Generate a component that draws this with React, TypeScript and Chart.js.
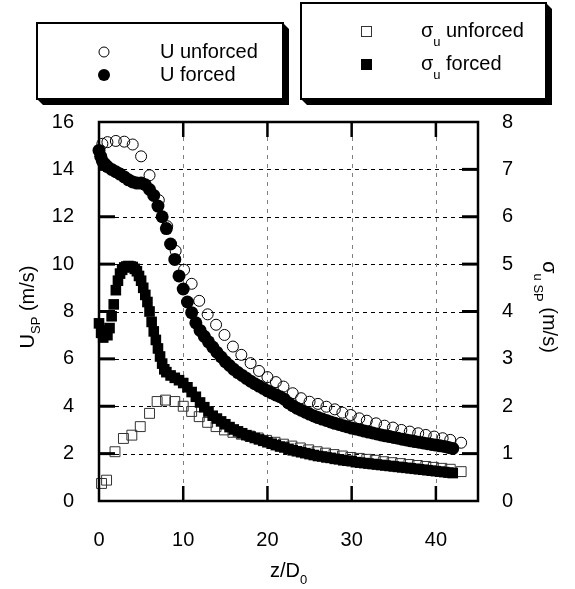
import React, { useEffect, useRef } from 'react';
import { Chart, registerables } from 'chart.js';

Chart.register(...registerables);

// ---------------- data ----------------
const xTicks = [0, 10, 20, 30, 40];
const uTicks = [0, 2, 4, 6, 8, 10, 12, 14, 16];
const sTicks = [0, 1, 2, 3, 4, 5, 6, 7, 8];

const uUnforcedX = [0.4, 1.0, 2.0, 3.0, 4.0, 5.0, 6.0, 7.1, 8.1, 9.1, 10.1, 11.0, 11.9, 12.9, 13.9, 14.9, 15.9, 16.9, 18.0, 19.0, 20.0, 21.0, 21.9, 23.0, 24.0, 25.0, 26.0, 27.0, 28.0, 28.9, 29.9, 30.9, 31.8, 32.9, 33.9, 34.9, 35.9, 36.9, 37.9, 38.8, 39.8, 40.8, 41.7, 43.0];
const uUnforcedY = [15.08, 15.15, 15.2, 15.17, 15.05, 14.55, 13.75, 12.7, 11.6, 10.56, 9.76, 9.17, 8.45, 7.88, 7.44, 7.01, 6.52, 6.17, 5.82, 5.49, 5.23, 5.02, 4.83, 4.55, 4.34, 4.19, 4.1, 3.98, 3.87, 3.73, 3.63, 3.49, 3.39, 3.28, 3.18, 3.1, 3.0, 2.93, 2.86, 2.79, 2.72, 2.65, 2.58, 2.46];

const uForcedX = [0.0, 0.2, 0.4, 0.7, 1.0, 1.5, 2.0, 2.5, 3.0, 3.5, 4.0, 4.5, 5.0, 5.5, 6.0, 6.5, 7.0, 7.5, 8.0, 8.5, 9.0, 9.5, 10.0, 10.5, 11.0, 11.5, 12.0, 12.5, 13.0, 13.5, 14.0, 14.5, 15.0, 15.5, 16.0, 16.5, 17.0, 17.5, 18.0, 18.5, 19.0, 19.5, 20.0, 20.5, 21.0, 21.5, 22.0, 22.5, 23.0, 23.5, 24.0, 24.5, 25.0, 25.5, 26.0, 26.5, 27.0, 27.5, 28.0, 28.5, 29.0, 29.5, 30.0, 30.5, 31.0, 31.5, 32.0, 32.5, 33.0, 33.5, 34.0, 34.5, 35.0, 35.5, 36.0, 36.5, 37.0, 37.5, 38.0, 38.5, 39.0, 39.5, 40.0, 40.5, 41.0, 41.5, 42.0];
const uForcedY = [14.8, 14.55, 14.35, 14.22, 14.12, 14.0, 13.9, 13.8, 13.68, 13.56, 13.47, 13.42, 13.42, 13.35, 13.15, 12.9, 12.45, 12.0, 11.5, 10.85, 10.2, 9.5, 8.95, 8.4, 7.95, 7.52, 7.2, 6.95, 6.72, 6.5, 6.28, 6.08, 5.88, 5.72, 5.56, 5.42, 5.3, 5.18, 5.06, 4.95, 4.85, 4.75, 4.65, 4.56, 4.48, 4.4, 4.3, 4.14, 4.02, 3.92, 3.83, 3.75, 3.67, 3.59, 3.52, 3.46, 3.4, 3.34, 3.28, 3.23, 3.18, 3.13, 3.08, 3.04, 3.0, 2.95, 2.91, 2.87, 2.83, 2.79, 2.75, 2.72, 2.68, 2.65, 2.61, 2.58, 2.54, 2.51, 2.48, 2.45, 2.42, 2.39, 2.36, 2.33, 2.3, 2.26, 2.22];

const sUnforcedX = [0.3, 0.9, 1.9, 2.9, 3.9, 4.9, 6.0, 6.9, 7.9, 9.0, 10.0, 11.0, 11.9, 12.9, 13.9, 14.9, 15.9, 16.9, 17.9, 18.9, 19.9, 20.9, 21.9, 22.9, 23.9, 24.9, 25.9, 26.9, 27.9, 28.9, 29.9, 30.9, 31.8, 32.8, 33.8, 34.8, 35.8, 36.8, 37.8, 38.8, 39.7, 40.7, 41.7, 43.0];
const sUnforcedY = [0.37, 0.44, 1.04, 1.32, 1.39, 1.57, 1.85, 2.1, 2.13, 2.1, 2.0, 1.89, 1.78, 1.66, 1.57, 1.5, 1.45, 1.41, 1.37, 1.33, 1.28, 1.24, 1.2, 1.16, 1.12, 1.08, 1.04, 1.01, 0.98, 0.95, 0.92, 0.9, 0.88, 0.86, 0.83, 0.81, 0.79, 0.77, 0.75, 0.73, 0.71, 0.69, 0.67, 0.62];

const sForcedX = [0.0, 0.25, 0.5, 0.75, 1.0, 1.25, 1.5, 1.75, 2.0, 2.25, 2.5, 2.75, 3.0, 3.25, 3.5, 3.75, 4.0, 4.25, 4.5, 4.75, 5.0, 5.25, 5.5, 5.75, 6.0, 6.25, 6.5, 6.75, 7.0, 7.25, 7.5, 7.75, 8.0, 8.5, 9.0, 9.5, 10.0, 10.5, 11.0, 11.5, 12.0, 12.5, 13.0, 13.5, 14.0, 14.5, 15.0, 15.5, 16.0, 16.5, 17.0, 17.5, 18.0, 18.5, 19.0, 19.5, 20.0, 20.5, 21.0, 21.5, 22.0, 22.5, 23.0, 23.5, 24.0, 24.5, 25.0, 25.5, 26.0, 26.5, 27.0, 27.5, 28.0, 28.5, 29.0, 29.5, 30.0, 30.5, 31.0, 31.5, 32.0, 32.5, 33.0, 33.5, 34.0, 34.5, 35.0, 35.5, 36.0, 36.5, 37.0, 37.5, 38.0, 38.5, 39.0, 39.5, 40.0, 40.5, 41.0, 41.5, 42.0];
const sForcedY = [3.75, 3.55, 3.45, 3.6, 3.5, 3.65, 3.9, 4.15, 4.45, 4.65, 4.8, 4.88, 4.93, 4.95, 4.96, 4.95, 4.94, 4.9, 4.85, 4.75, 4.65, 4.5, 4.35, 4.2, 4.0, 3.78, 3.58, 3.4, 3.22, 3.05, 2.9, 2.78, 2.72, 2.65, 2.6, 2.55, 2.49, 2.4, 2.3, 2.2, 2.08, 1.98, 1.89, 1.8, 1.74, 1.68, 1.62, 1.56, 1.51, 1.47, 1.43, 1.39, 1.36, 1.33, 1.3, 1.27, 1.24, 1.21, 1.18, 1.15, 1.13, 1.1, 1.07, 1.05, 1.03, 1.01, 0.99, 0.97, 0.95, 0.94, 0.92, 0.91, 0.89, 0.88, 0.86, 0.85, 0.84, 0.82, 0.81, 0.8, 0.79, 0.78, 0.77, 0.76, 0.75, 0.74, 0.73, 0.72, 0.71, 0.7, 0.69, 0.68, 0.67, 0.66, 0.65, 0.64, 0.63, 0.62, 0.61, 0.6, 0.59];

const legendLeftLabels = ['U unforced', 'U forced'];
const legendRightLabels = ['unforced', 'forced'];

// ---------------- layout ----------------
const W = 575;
const H = 589;
const PLOT = { left: 99, right: 478, top: 122, bottom: 501 };
const FONT = "'Liberation Sans', Arial, Helvetica, sans-serif";
const FS = 20;
const SUB = 13;

const zip = (xs: number[], ys: number[]) => xs.map((x, i) => ({ x, y: ys[i] }));

type Part = { t: string; sub?: boolean };

function richWidth(ctx: CanvasRenderingContext2D, parts: Part[]) {
  let w = 0;
  for (const p of parts) {
    ctx.font = `${p.sub ? SUB : FS}px ${FONT}`;
    w += ctx.measureText(p.t).width;
  }
  return w;
}

function drawRich(ctx: CanvasRenderingContext2D, parts: Part[], x: number, y: number, align: 'left' | 'center', subOff = 9) {
  let cx = align === 'center' ? x - richWidth(ctx, parts) / 2 : x;
  ctx.textAlign = 'left';
  ctx.textBaseline = 'middle';
  ctx.fillStyle = '#000';
  for (const p of parts) {
    ctx.font = `${p.sub ? SUB : FS}px ${FONT}`;
    ctx.fillText(p.t, cx, p.sub ? y + subOff : y);
    cx += ctx.measureText(p.t).width;
  }
}

function drawBox(ctx: CanvasRenderingContext2D, x0: number, y0: number, x1: number, y1: number) {
  const d = 6;
  ctx.fillStyle = '#000';
  ctx.beginPath();
  ctx.moveTo(x1, y0);
  ctx.lineTo(x1 + d, y0 + d);
  ctx.lineTo(x1 + d, y1 + d);
  ctx.lineTo(x0 + d, y1 + d);
  ctx.lineTo(x0, y1);
  ctx.closePath();
  ctx.fill();
  ctx.fillStyle = '#fff';
  ctx.fillRect(x0, y0, x1 - x0, y1 - y0);
  ctx.strokeStyle = '#000';
  ctx.lineWidth = 2;
  ctx.strokeRect(x0, y0, x1 - x0, y1 - y0);
}

const decorPlugin = {
  id: 'decor',
  beforeDatasetsDraw(chart: any) {
    const { ctx, chartArea: a, scales } = chart;
    ctx.save();
    ctx.lineWidth = 1;
    ctx.setLineDash([4, 4]);
    ctx.strokeStyle = '#000';
    for (const v of uTicks) {
      if (v === uTicks[0] || v === uTicks[uTicks.length - 1]) continue;
      const y = Math.round(scales.y.getPixelForValue(v)) + 0.5;
      ctx.beginPath();
      ctx.moveTo(a.left + 16, y);
      ctx.lineTo(a.right - 16, y);
      ctx.stroke();
    }
    ctx.strokeStyle = '#808080';
    ctx.setLineDash([4, 5]);
    for (const v of xTicks) {
      if (v === 0) continue;
      const x = Math.round(scales.x.getPixelForValue(v)) + 0.5;
      ctx.beginPath();
      ctx.moveTo(x, a.top + 15);
      ctx.lineTo(x, a.bottom - 15);
      ctx.stroke();
    }
    ctx.restore();
  },
  afterDatasetsDraw(chart: any) {
    const { ctx, chartArea: a, scales } = chart;
    ctx.save();
    ctx.setLineDash([]);
    ctx.strokeStyle = '#000';
    ctx.lineWidth = 3;
    for (const v of uTicks) {
      if (v === uTicks[0] || v === uTicks[uTicks.length - 1]) continue;
      const y = scales.y.getPixelForValue(v);
      ctx.beginPath();
      ctx.moveTo(a.left, y);
      ctx.lineTo(a.left + 16, y);
      ctx.stroke();
    }
    for (const v of sTicks) {
      if (v === sTicks[0] || v === sTicks[sTicks.length - 1]) continue;
      const y = scales.y1.getPixelForValue(v);
      ctx.beginPath();
      ctx.moveTo(a.right - 16, y);
      ctx.lineTo(a.right, y);
      ctx.stroke();
    }
    ctx.lineWidth = 2.5;
    for (const v of xTicks) {
      if (v === 0) continue;
      const x = scales.x.getPixelForValue(v);
      ctx.beginPath();
      ctx.moveTo(x, a.bottom);
      ctx.lineTo(x, a.bottom - 15);
      ctx.moveTo(x, a.top);
      ctx.lineTo(x, a.top + 15);
      ctx.stroke();
    }
    ctx.lineWidth = 2.5;
    ctx.strokeRect(a.left, a.top, a.right - a.left, a.bottom - a.top);
    ctx.restore();
  },
  afterDraw(chart: any) {
    const { ctx, chartArea: a } = chart;
    ctx.save();
    // axis titles
    drawRich(ctx, [{ t: 'z/D' }, { t: '0', sub: true }], (a.left + a.right) / 2, 571, 'center');
    ctx.save();
    ctx.translate(28, 307);
    ctx.rotate(-Math.PI / 2);
    drawRich(ctx, [{ t: 'U' }, { t: 'SP', sub: true }, { t: ' (m/s)' }], 0, 0, 'center', 8);
    ctx.restore();
    ctx.save();
    ctx.translate(549, 307);
    ctx.rotate(Math.PI / 2);
    drawRich(ctx, [{ t: 'σ' }, { t: 'u ', sub: true }, { t: 'SP', sub: true }, { t: ' (m/s)' }], 0, 0, 'center', 11);
    ctx.restore();

    // left legend
    drawBox(ctx, 37, 23, 283, 99);
    ctx.lineWidth = 1;
    ctx.strokeStyle = '#000';
    ctx.beginPath();
    ctx.arc(104, 52, 5, 0, Math.PI * 2);
    ctx.stroke();
    ctx.fillStyle = '#000';
    ctx.beginPath();
    ctx.arc(104, 75, 6, 0, Math.PI * 2);
    ctx.fill();
    drawRich(ctx, [{ t: legendLeftLabels[0] }], 160, 52, 'left');
    drawRich(ctx, [{ t: legendLeftLabels[1] }], 160, 75, 'left');

    // right legend
    drawBox(ctx, 301, 3, 546, 99);
    ctx.strokeStyle = '#333';
    ctx.lineWidth = 1;
    ctx.strokeRect(361.5, 26.5, 10, 10);
    ctx.fillStyle = '#000';
    ctx.fillRect(361, 59, 11, 11);
    drawRich(ctx, [{ t: 'σ' }, { t: 'u', sub: true }], 421, 31, 'left', 11);
    drawRich(ctx, [{ t: 'σ' }, { t: 'u', sub: true }], 421, 64, 'left', 11);
    drawRich(ctx, [{ t: legendRightLabels[0] }], 446, 31, 'left');
    drawRich(ctx, [{ t: legendRightLabels[1] }], 446, 64, 'left');
    ctx.restore();
  },
};

const tickFont = { family: FONT, size: FS };

export default function App() {
  const ref = useRef<HTMLCanvasElement>(null);
  useEffect(() => {
    document.body.style.margin = '0';
    const canvas = ref.current!;
    const chart = new Chart(canvas, {
      type: 'scatter',
      data: {
        datasets: [
          {
            label: 'U forced',
            data: zip(uForcedX, uForcedY),
            yAxisID: 'y',
            pointStyle: 'circle',
            pointRadius: 6.5,
            pointBackgroundColor: '#000',
            pointBorderColor: '#000',
            pointBorderWidth: 0,
            order: 0,
          },
          {
            label: 'σu forced',
            data: zip(sForcedX, sForcedY),
            yAxisID: 'y1',
            pointStyle: 'rect',
            pointRadius: 7.5,
            pointBackgroundColor: '#000',
            pointBorderColor: '#000',
            pointBorderWidth: 0,
            order: 1,
          },
          {
            label: 'U unforced',
            data: zip(uUnforcedX, uUnforcedY),
            yAxisID: 'y',
            pointStyle: 'circle',
            pointRadius: 5.5,
            pointBackgroundColor: 'rgba(0,0,0,0)',
            pointBorderColor: '#000',
            pointBorderWidth: 1,
            order: 2,
          },
          {
            label: 'σu unforced',
            data: zip(sUnforcedX, sUnforcedY),
            yAxisID: 'y1',
            pointStyle: 'rect',
            pointRadius: 7,
            pointBackgroundColor: 'rgba(0,0,0,0)',
            pointBorderColor: '#333',
            pointBorderWidth: 1,
            order: 3,
          },
        ],
      },
      options: {
        responsive: false,
        animation: false,
        devicePixelRatio: 1,
        clip: false as any,
        layout: { padding: { top: PLOT.top, left: 0, right: 0, bottom: 0 } },
        plugins: { legend: { display: false }, tooltip: { enabled: false } },
        scales: {
          x: {
            type: 'linear',
            position: 'bottom',
            min: 0,
            max: 45,
            afterBuildTicks: (s: any) => { s.ticks = xTicks.map((v) => ({ value: v })); },
            afterFit: (s: any) => { s.height = H - PLOT.bottom; },
            grid: { display: false, drawTicks: false },
            border: { display: false },
            ticks: { font: tickFont, color: '#000', padding: 27, autoSkip: false, maxRotation: 0 },
          },
          y: {
            type: 'linear',
            position: 'left',
            min: 0,
            max: 16,
            afterBuildTicks: (s: any) => { s.ticks = uTicks.map((v) => ({ value: v })); },
            afterFit: (s: any) => { s.width = PLOT.left; },
            grid: { display: false, drawTicks: false },
            border: { display: false },
            ticks: { font: tickFont, color: '#000', padding: 25, autoSkip: false },
          },
          y1: {
            type: 'linear',
            position: 'right',
            min: 0,
            max: 8,
            afterBuildTicks: (s: any) => { s.ticks = sTicks.map((v) => ({ value: v })); },
            afterFit: (s: any) => { s.width = W - PLOT.right; },
            grid: { display: false, drawTicks: false },
            border: { display: false },
            ticks: { font: tickFont, color: '#000', padding: 24, autoSkip: false },
          },
        },
      },
      plugins: [decorPlugin],
    } as any);
    return () => chart.destroy();
  }, []);
  return (
    <div style={{ width: W, height: H, position: 'relative', background: '#fff' }}>
      <canvas ref={ref} width={W} height={H} style={{ display: 'block', width: W, height: H }} />
    </div>
  );
}
